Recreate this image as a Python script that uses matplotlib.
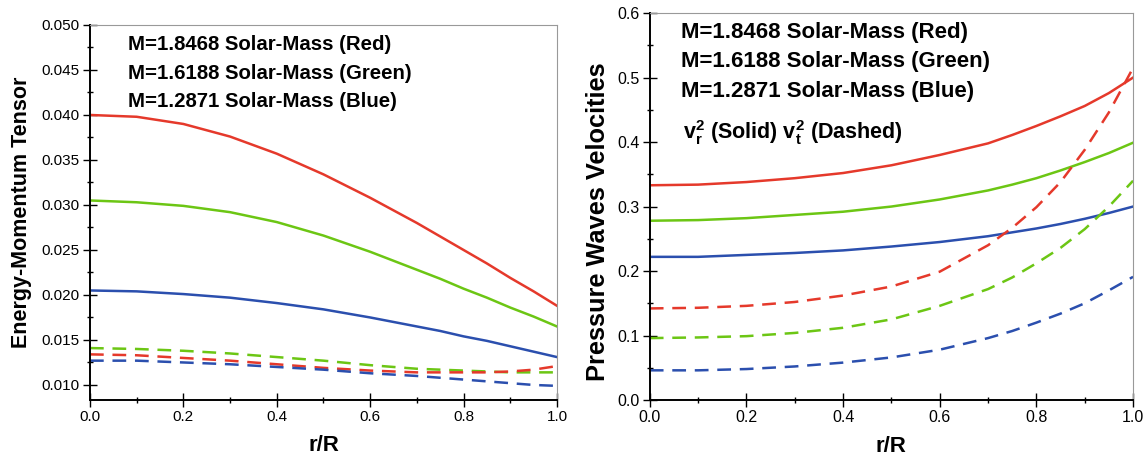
import matplotlib
matplotlib.use("Agg")
import matplotlib.pyplot as plt

plt.rcParams['font.family'] = ['Liberation Sans', 'DejaVu Sans']
plt.rcParams['mathtext.fontset'] = 'custom'
plt.rcParams['mathtext.rm'] = 'Liberation Sans'
plt.rcParams['mathtext.bf'] = 'Liberation Sans:bold'

RED = "#e5392b"
GREEN = "#6cc614"
BLUE = "#2b4fae"

# r/R
r = [0.0, 0.1, 0.2, 0.3, 0.4, 0.5, 0.6, 0.7, 0.75, 0.8, 0.85, 0.9, 0.95, 1.0]

# levi graf - energy-momentum tensor
em_red = [0.0400, 0.0398, 0.0390, 0.0376, 0.0357, 0.0334, 0.0308, 0.0280, 0.0265, 0.0250, 0.0235, 0.0219, 0.0204, 0.0188]
em_green = [0.0305, 0.0303, 0.0299, 0.0292, 0.0281, 0.0266, 0.0248, 0.0228, 0.0218, 0.0207, 0.0197, 0.0186, 0.0176, 0.0165]
em_blue = [0.0205, 0.0204, 0.0201, 0.0197, 0.0191, 0.0184, 0.0175, 0.0165, 0.0160, 0.0154, 0.0149, 0.0143, 0.0137, 0.0131]
em_red_d = [0.0134, 0.0133, 0.0130, 0.0127, 0.0123, 0.0119, 0.0116, 0.0114, 0.0114, 0.0114, 0.0114, 0.0115, 0.0117, 0.0121]
em_green_d = [0.0141, 0.0140, 0.0138, 0.0135, 0.0131, 0.0127, 0.0122, 0.0118, 0.0117, 0.0116, 0.0115, 0.0114, 0.0114, 0.0114]
em_blue_d = [0.0127, 0.0127, 0.0125, 0.0123, 0.0120, 0.0117, 0.0113, 0.0110, 0.0108, 0.0106, 0.0104, 0.0102, 0.0100, 0.0099]

# desni graf - hitrosti (v_r^2 polno, v_t^2 crtkano)
vr_red = [0.333, 0.334, 0.338, 0.344, 0.352, 0.364, 0.380, 0.398, 0.411, 0.425, 0.440, 0.456, 0.476, 0.500]
vr_green = [0.278, 0.279, 0.282, 0.287, 0.292, 0.300, 0.311, 0.325, 0.334, 0.344, 0.356, 0.369, 0.383, 0.399]
vr_blue = [0.222, 0.222, 0.225, 0.228, 0.232, 0.238, 0.245, 0.254, 0.260, 0.266, 0.273, 0.281, 0.290, 0.300]
vt_red = [0.142, 0.143, 0.146, 0.152, 0.162, 0.176, 0.199, 0.240, 0.267, 0.299, 0.338, 0.388, 0.446, 0.515]
vt_green = [0.096, 0.097, 0.099, 0.104, 0.112, 0.125, 0.146, 0.172, 0.190, 0.212, 0.236, 0.265, 0.300, 0.340]
vt_blue = [0.046, 0.046, 0.048, 0.052, 0.058, 0.066, 0.078, 0.096, 0.107, 0.120, 0.134, 0.150, 0.170, 0.191]

labels = ["M=1.8468 Solar-Mass (Red)", "M=1.6188 Solar-Mass (Green)", "M=1.2871 Solar-Mass (Blue)"]

LW = 1.8
DASH = (5.5, 3.5)


def oblikuj_os(ax, ylim, yticks, ymin_step, fs):
    ax.set_xlim(0, 1)
    ax.set_ylim(*ylim)
    ax.set_xticks([0.0, 0.2, 0.4, 0.6, 0.8, 1.0])
    ax.set_xticks([0.1, 0.3, 0.5, 0.7, 0.9], minor=True)
    ax.set_yticks(yticks)
    minor = [y + ymin_step for y in yticks[:-1]]
    ax.set_yticks(minor, minor=True)
    ax.tick_params(which='major', direction='inout', length=10.5, width=1.0, labelsize=fs, pad=2)
    ax.tick_params(which='minor', direction='inout', length=5, width=1.0)
    for s in ['left', 'bottom']:
        ax.spines[s].set_linewidth(1.4)
        ax.spines[s].set_color('black')
    for s in ['top', 'right']:
        ax.spines[s].set_linewidth(0.8)
        ax.spines[s].set_color('#999999')
    ax.set_xlabel("r/R", fontsize=16, fontweight='bold', labelpad=8)


fig = plt.figure(figsize=(11.46, 4.65), dpi=100)

# levi
ax1 = fig.add_axes([0.0785, 0.1398, 0.4075, 0.8065])
ax1.plot(r, em_red, color=RED, lw=LW)
ax1.plot(r, em_green, color=GREEN, lw=LW)
ax1.plot(r, em_blue, color=BLUE, lw=LW)
ax1.plot(r, em_green_d, color=GREEN, lw=LW, dashes=DASH)
ax1.plot(r, em_red_d, color=RED, lw=LW, dashes=DASH)
ax1.plot(r, em_blue_d, color=BLUE, lw=LW, dashes=DASH)
oblikuj_os(ax1, (0.00833, 0.050), [0.010, 0.015, 0.020, 0.025, 0.030, 0.035, 0.040, 0.045, 0.050], 0.0025, 11)
ax1.set_yticklabels(["%.3f" % v for v in ax1.get_yticks()])
ax1.set_ylabel("Energy-Momentum Tensor", fontsize=15.5, fontweight='bold', labelpad=7)
for i, t in enumerate(labels):
    ax1.text(0.081, 0.947 - i * 0.076, t, transform=ax1.transAxes, fontsize=14.7,
             fontweight='bold', va='center')

# desni
ax2 = fig.add_axes([0.567, 0.1398, 0.4217, 0.832])
ax2.plot(r, vr_red, color=RED, lw=LW)
ax2.plot(r, vr_green, color=GREEN, lw=LW)
ax2.plot(r, vr_blue, color=BLUE, lw=LW)
ax2.plot(r, vt_red, color=RED, lw=LW, dashes=DASH, clip_on=False)
ax2.plot(r, vt_green, color=GREEN, lw=LW, dashes=DASH)
ax2.plot(r, vt_blue, color=BLUE, lw=LW, dashes=DASH)
oblikuj_os(ax2, (0.0, 0.6), [0.0, 0.1, 0.2, 0.3, 0.4, 0.5, 0.6], 0.05, 11.5)
ax2.set_yticklabels(["%.1f" % v for v in ax2.get_yticks()])
ax2.set_ylabel("Pressure Waves Velocities", fontsize=18.3, fontweight='bold')
ax2.yaxis.set_label_coords(-0.083, 0.46)
for i, t in enumerate(labels):
    ax2.text(0.064, 0.951 - i * 0.077, t, transform=ax2.transAxes, fontsize=16,
             fontweight='bold', va='center')
ax2.text(0.068, 0.692, r"$\mathbf{v}^{\mathbf{2}}_{\mathbf{r}}$ (Solid) $\mathbf{v}^{\mathbf{2}}_{\mathbf{t}}$ (Dashed)",
         transform=ax2.transAxes, fontsize=15.5, fontweight='bold', va='center')

fig.savefig("out.png", dpi=100)
